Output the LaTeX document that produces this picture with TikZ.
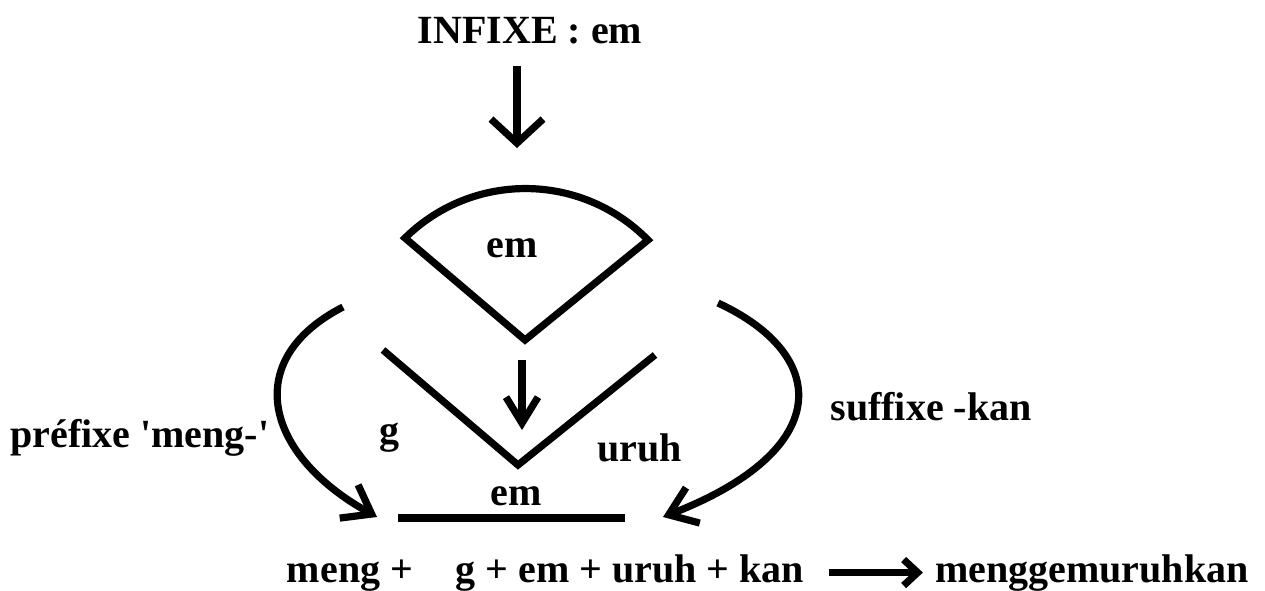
\documentclass[tikz,border=0pt]{standalone}
\usepackage{fontspec}
\setmainfont{Liberation Serif}
\usetikzlibrary{arrows.meta, positioning, calc}
\tikzset{
  lbl/.style    = {font=\fontsize{20}{24}\selectfont\bfseries, inner sep=0pt, anchor=base},
  stroke/.style = {line width=3.6pt},
  arr/.style    = {stroke, -{Straight Barb[length=12pt, width=26pt]}},
  droparr/.style = {stroke, -{Straight Barb[length=13pt, width=16pt]}},
  curvearr/.style = {stroke, -{Straight Barb[length=13pt, width=19pt]}},
  resarr/.style = {stroke, -{Straight Barb[length=7pt, width=13pt]}}
}

\begin{document}
\begin{tikzpicture}[x=0.5pt, y=-0.5pt]
  \useasboundingbox (0,0) rectangle (1265,590);

  % ── Infix ─────────────────────────────────────────────────────────────────
  \node[lbl] (infix) at (530,43) {INFIXE : em};
  \coordinate (infixEnd) at (517,148);
  \draw[arr, shorten <=11pt] (infix.south -| infixEnd) -- (infixEnd);

  % ── Sector holding the infix ──────────────────────────────────────────────
  \coordinate (secL) at (405,238);
  \coordinate (secR) at (648,240);
  \coordinate (secB) at (525,340);
  \draw[stroke] (secL) to[bend left=45] (secR) -- (secB) -- cycle;
  \node[lbl] (secEm) at (512,257) {em};

  % Sector drops into the root
  \coordinate (dropTop) at (522,360);
  \coordinate (dropEnd) at (522,430);
  \draw[droparr] (dropTop) -- (dropEnd);

  % ── Root split open (V) ───────────────────────────────────────────────────
  \coordinate (vL) at (383,350);
  \coordinate (vB) at (518,465);
  \coordinate (vR) at (655,355);
  \draw[stroke] (vL) -- (vB) -- (vR);
  \node[lbl] (rootG)    at (389,443) {g};
  \node[lbl] (rootUruh) at (640,461) {uruh};

  % ── Slot with the infix ───────────────────────────────────────────────────
  \node[lbl] (slotEm) at (516,505) {em};
  \coordinate (slotL) at (398,518);
  \coordinate (slotR) at (625,518);
  \draw[stroke, line width=4pt] (slotL) -- (slotR);

  % ── Prefix (left) ─────────────────────────────────────────────────────────
  \node[lbl] (prefix) at (140,447) {préfixe \textquotesingle meng-\textquotesingle};
  \coordinate (preStart) at (343,307);
  \coordinate (preEnd)   at (377,517);
  \draw[curvearr] (preStart) .. controls (240,360) and (265,455) .. (preEnd);

  % ── Suffix (right) ────────────────────────────────────────────────────────
  \node[lbl] (suffix) at (931,420) {suffixe -kan};
  \coordinate (sufStart) at (718,303);
  \coordinate (sufEnd)   at (663,517);
  \draw[curvearr] (sufStart) .. controls (830,355) and (835,450) .. (sufEnd);

  % ── Result ────────────────────────────────────────────────────────────────
  \node[lbl] (sumA)   at (350,582) {meng +};
  \node[lbl] (sumB)   at (630,582) {g + em + uruh + kan};
  \node[lbl] (result) at (1092,582) {menggemuruhkan};
  \draw[resarr, shorten <=12pt, shorten >=6pt] (sumB.east) -- (result.west);

\end{tikzpicture}
\end{document}
